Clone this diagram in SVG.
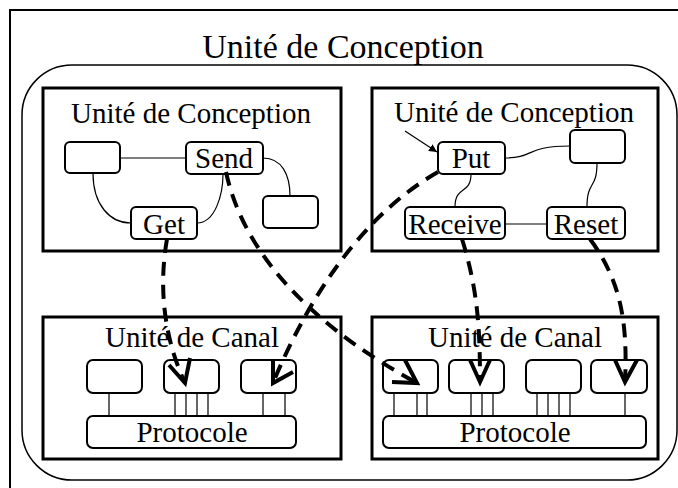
<svg xmlns="http://www.w3.org/2000/svg" width="678" height="488" viewBox="0 0 678 488">
<defs>
<style>
text{font-family:"Liberation Serif","Times New Roman",serif;fill:#000;text-anchor:middle}
.t{font-size:29px}
.big{font-size:34px}
.box{fill:none;stroke:#000;stroke-width:3}
.nd{fill:#fff;stroke:#000;stroke-width:2}
.ln{fill:none;stroke:#000;stroke-width:1.2}
.ds{fill:none;stroke:#000;stroke-width:4;stroke-dasharray:14 9}
.hd{fill:none;stroke:#000;stroke-width:4;stroke-linejoin:miter}
</style>
<marker id="ah" viewBox="0 0 10 10" refX="10" refY="5" markerWidth="8" markerHeight="8" markerUnits="userSpaceOnUse" orient="auto">
<path d="M0,0 L10,5 L0,10 z" fill="#000"/>
</marker>
</defs>
<rect width="678" height="488" fill="#fff"/>
<rect x="10" y="10" width="690" height="500" fill="none" stroke="#000" stroke-width="2"/>
<text class="big" x="343" y="58">Unité de Conception</text>
<rect x="22" y="65" width="655" height="415" rx="50" ry="50" fill="none" stroke="#000" stroke-width="1.5"/>

<g id="uc-left">
<rect class="box" x="43" y="88" width="298" height="163"/>
<text class="t" x="191" y="123">Unité de Conception</text>
</g>
<g id="uc-right">
<rect class="box" x="372" y="88" width="286" height="163"/>
<text class="t" x="514" y="122">Unité de Conception</text>
</g>
<g id="canal-left">
<rect class="box" x="43" y="317" width="298" height="142"/>
<text class="t" x="192" y="347">Unité de Canal</text>
</g>
<g id="canal-right">
<rect class="box" x="372" y="317" width="286" height="142"/>
<text class="t" x="515" y="347">Unité de Canal</text>
</g>

<g id="connectors">
<path class="ln" d="M120,158 L186,158"/>
<path class="ln" d="M93,173 C93,205 110,223 131,223"/>
<path class="ln" d="M197,223 C215,223 223,195 223,174"/>
<path class="ln" d="M263,158 C282,158 290,175 290,196"/>
<path class="ln" d="M505,158 C535,158 525,146 570,146"/>
<path class="ln" d="M471,174 C471,195 455,185 455,207"/>
<path class="ln" d="M505,224 L547,224"/>
<path class="ln" d="M597,163 C597,190 587,180 587,207"/>
<path class="ln" d="M405,131 L437,152" marker-end="url(#ah)"/>
<path class="ln" d="M109,393 V416 M175,393 V416 M186,393 V416 M197,393 V416 M208,393 V416 M263,393 V416 M285,393 V416"/>
<path class="ln" d="M394,393 V416 M417,393 V416 M427,393 V416 M471,393 V416 M482,393 V416 M493,393 V416 M537,393 V416 M548,393 V416 M559,393 V416 M570,393 V416 M625,393 V416"/>
</g>

<g id="nodes-left">
<g id="n1"><rect class="nd" x="65" y="142" width="55" height="31" rx="5"/></g>
<g id="send"><rect class="nd" x="186" y="142" width="77" height="32" rx="5"/><text class="t" x="224" y="168">Send</text></g>
<g id="get"><rect class="nd" x="131" y="207" width="66" height="32" rx="5"/><text class="t" x="164" y="234">Get</text></g>
<g id="n2"><rect class="nd" x="263" y="196" width="55" height="32" rx="5"/></g>
</g>
<g id="nodes-right">
<g id="put"><rect class="nd" x="438" y="142" width="67" height="32" rx="5"/><text class="t" x="471" y="168">Put</text></g>
<g id="n3"><rect class="nd" x="570" y="130" width="55" height="33" rx="5"/></g>
<g id="receive"><rect class="nd" x="405" y="207" width="100" height="32" rx="5"/><text class="t" x="455" y="234">Receive</text></g>
<g id="reset"><rect class="nd" x="547" y="207" width="78" height="32" rx="5"/><text class="t" x="586" y="234">Reset</text></g>
</g>
<g id="canal-left-nodes">
<rect class="nd" x="87" y="360" width="55" height="33" rx="6"/>
<rect class="nd" x="164" y="360" width="55" height="33" rx="6"/>
<rect class="nd" x="241" y="360" width="55" height="33" rx="6"/>
<g id="proto-left"><rect class="nd" x="87" y="416" width="209" height="32" rx="6"/><text class="t" x="192" y="442">Protocole</text></g>
</g>
<g id="canal-right-nodes">
<rect class="nd" x="383" y="360" width="55" height="33" rx="6"/>
<rect class="nd" x="449" y="360" width="55" height="33" rx="6"/>
<rect class="nd" x="526" y="360" width="55" height="33" rx="6"/>
<rect class="nd" x="591" y="360" width="56" height="33" rx="6"/>
<g id="proto-right"><rect class="nd" x="383" y="416" width="263" height="32" rx="6"/><text class="t" x="515" y="442">Protocole</text></g>
</g>

<g id="flows">
<path class="ds" d="M167,239 C158,290 165,340 185,383"/>
<path class="hd" d="M169,365 L185,383 L190,358"/>
<path class="ds" d="M226,172 C245,260 320,330 417,383"/>
<path class="hd" d="M392,382 L417,383 L405,360"/>
<path class="ds" d="M438,172 C380,205 320,270 273,383"/>
<path class="hd" d="M273,360 L273,383 L293,372"/>
<path class="ds" d="M462,239 C478,290 480,330 480,382"/>
<path class="hd" d="M470,360 L480,382 L490,360"/>
<path class="ds" d="M590,239 C620,280 628,320 625,382"/>
<path class="hd" d="M615,360 L625,382 L637,360"/>
</g>
</svg>
